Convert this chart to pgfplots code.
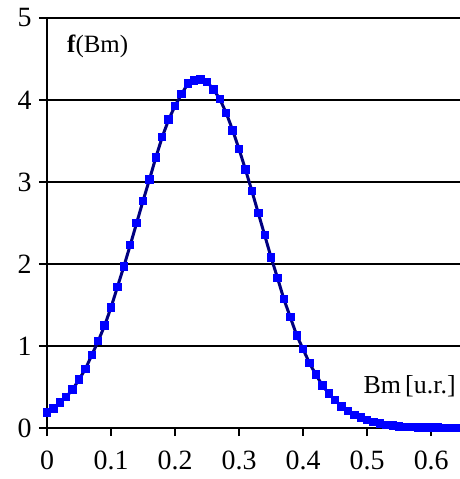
\documentclass[border=0pt]{standalone}
\usepackage{pgfplots}
\pgfplotsset{compat=1.18}
\usepackage{fontspec}
\setmainfont{Liberation Serif}
\definecolor{navyline}{RGB}{0,0,128}
\definecolor{markblue}{RGB}{0,0,255}
\begin{document}
\begin{tikzpicture}
\begin{axis}[
  scale only axis,
  width=413bp, height=410bp,
  xmin=0, xmax=0.645, ymin=0, ymax=5,
  axis lines*=left,
  axis line style={line width=2.8bp, black, -},
  xtick={0,0.1,0.2,0.3,0.4,0.5,0.6},
  ytick={0,1,2,3,4,5},
  xticklabels={0,0.1,0.2,0.3,0.4,0.5,0.6},
  tick align=outside,
  major tick length=8bp,
  tick style={line width=2.5bp, black},
  ymajorgrids,
  grid style={line width=1.3bp, black},
  tick label style={font=\fontsize{28}{30}\selectfont},
  /pgf/number format/assume math mode=true,
  xticklabel style={yshift=-11bp},
  yticklabel style={xshift=-4bp},
  clip=true,
]
\addplot[navyline, line width=3bp, mark=square*, mark size=3.7bp,
  mark options={markblue, draw=markblue, fill=markblue, line width=0pt}] coordinates {
(0,0.19)(0.01,0.24)(0.02,0.31)(0.03,0.38)(0.04,0.47)(0.05,0.59)(0.06,0.72)(0.07,0.89)
(0.08,1.06)(0.09,1.25)(0.10,1.47)(0.11,1.72)(0.12,1.97)(0.13,2.23)(0.14,2.50)(0.15,2.77)
(0.16,3.03)(0.17,3.30)(0.18,3.55)(0.19,3.76)(0.20,3.93)(0.21,4.07)(0.22,4.20)(0.23,4.24)
(0.24,4.25)(0.25,4.22)(0.26,4.13)(0.27,4.01)(0.28,3.84)(0.29,3.63)(0.30,3.40)(0.31,3.15)
(0.32,2.89)(0.33,2.62)(0.34,2.35)(0.35,2.08)(0.36,1.83)(0.37,1.57)(0.38,1.35)(0.39,1.13)
(0.40,0.96)(0.41,0.79)(0.42,0.65)(0.43,0.52)(0.44,0.42)(0.45,0.34)(0.46,0.26)(0.47,0.21)
(0.48,0.16)(0.49,0.13)(0.50,0.10)(0.51,0.07)(0.52,0.055)(0.53,0.04)(0.54,0.03)(0.55,0.02)
(0.56,0.015)(0.57,0.01)(0.58,0.008)(0.59,0.006)(0.60,0.005)(0.61,0.004)(0.62,0.003)
(0.63,0.002)(0.64,0.002)(0.65,0.001)
};
\node[anchor=west, font=\fontsize{25}{27}\selectfont, inner sep=0pt] at (axis cs:0.031,4.65) {\textbf{f}(Bm)};
\node[anchor=west, font=\fontsize{26}{28}\selectfont, inner sep=0pt] at (axis cs:0.494,0.51) {Bm\,[u.r.]};
\coordinate (ll) at (rel axis cs:0,0);
\coordinate (ur) at (rel axis cs:1,1);
\end{axis}
\pgfresetboundingbox
\path ([shift={(-47bp,-51bp)}]ll) rectangle ([shift={(0bp,18bp)}]ur);
\end{tikzpicture}
\end{document}
